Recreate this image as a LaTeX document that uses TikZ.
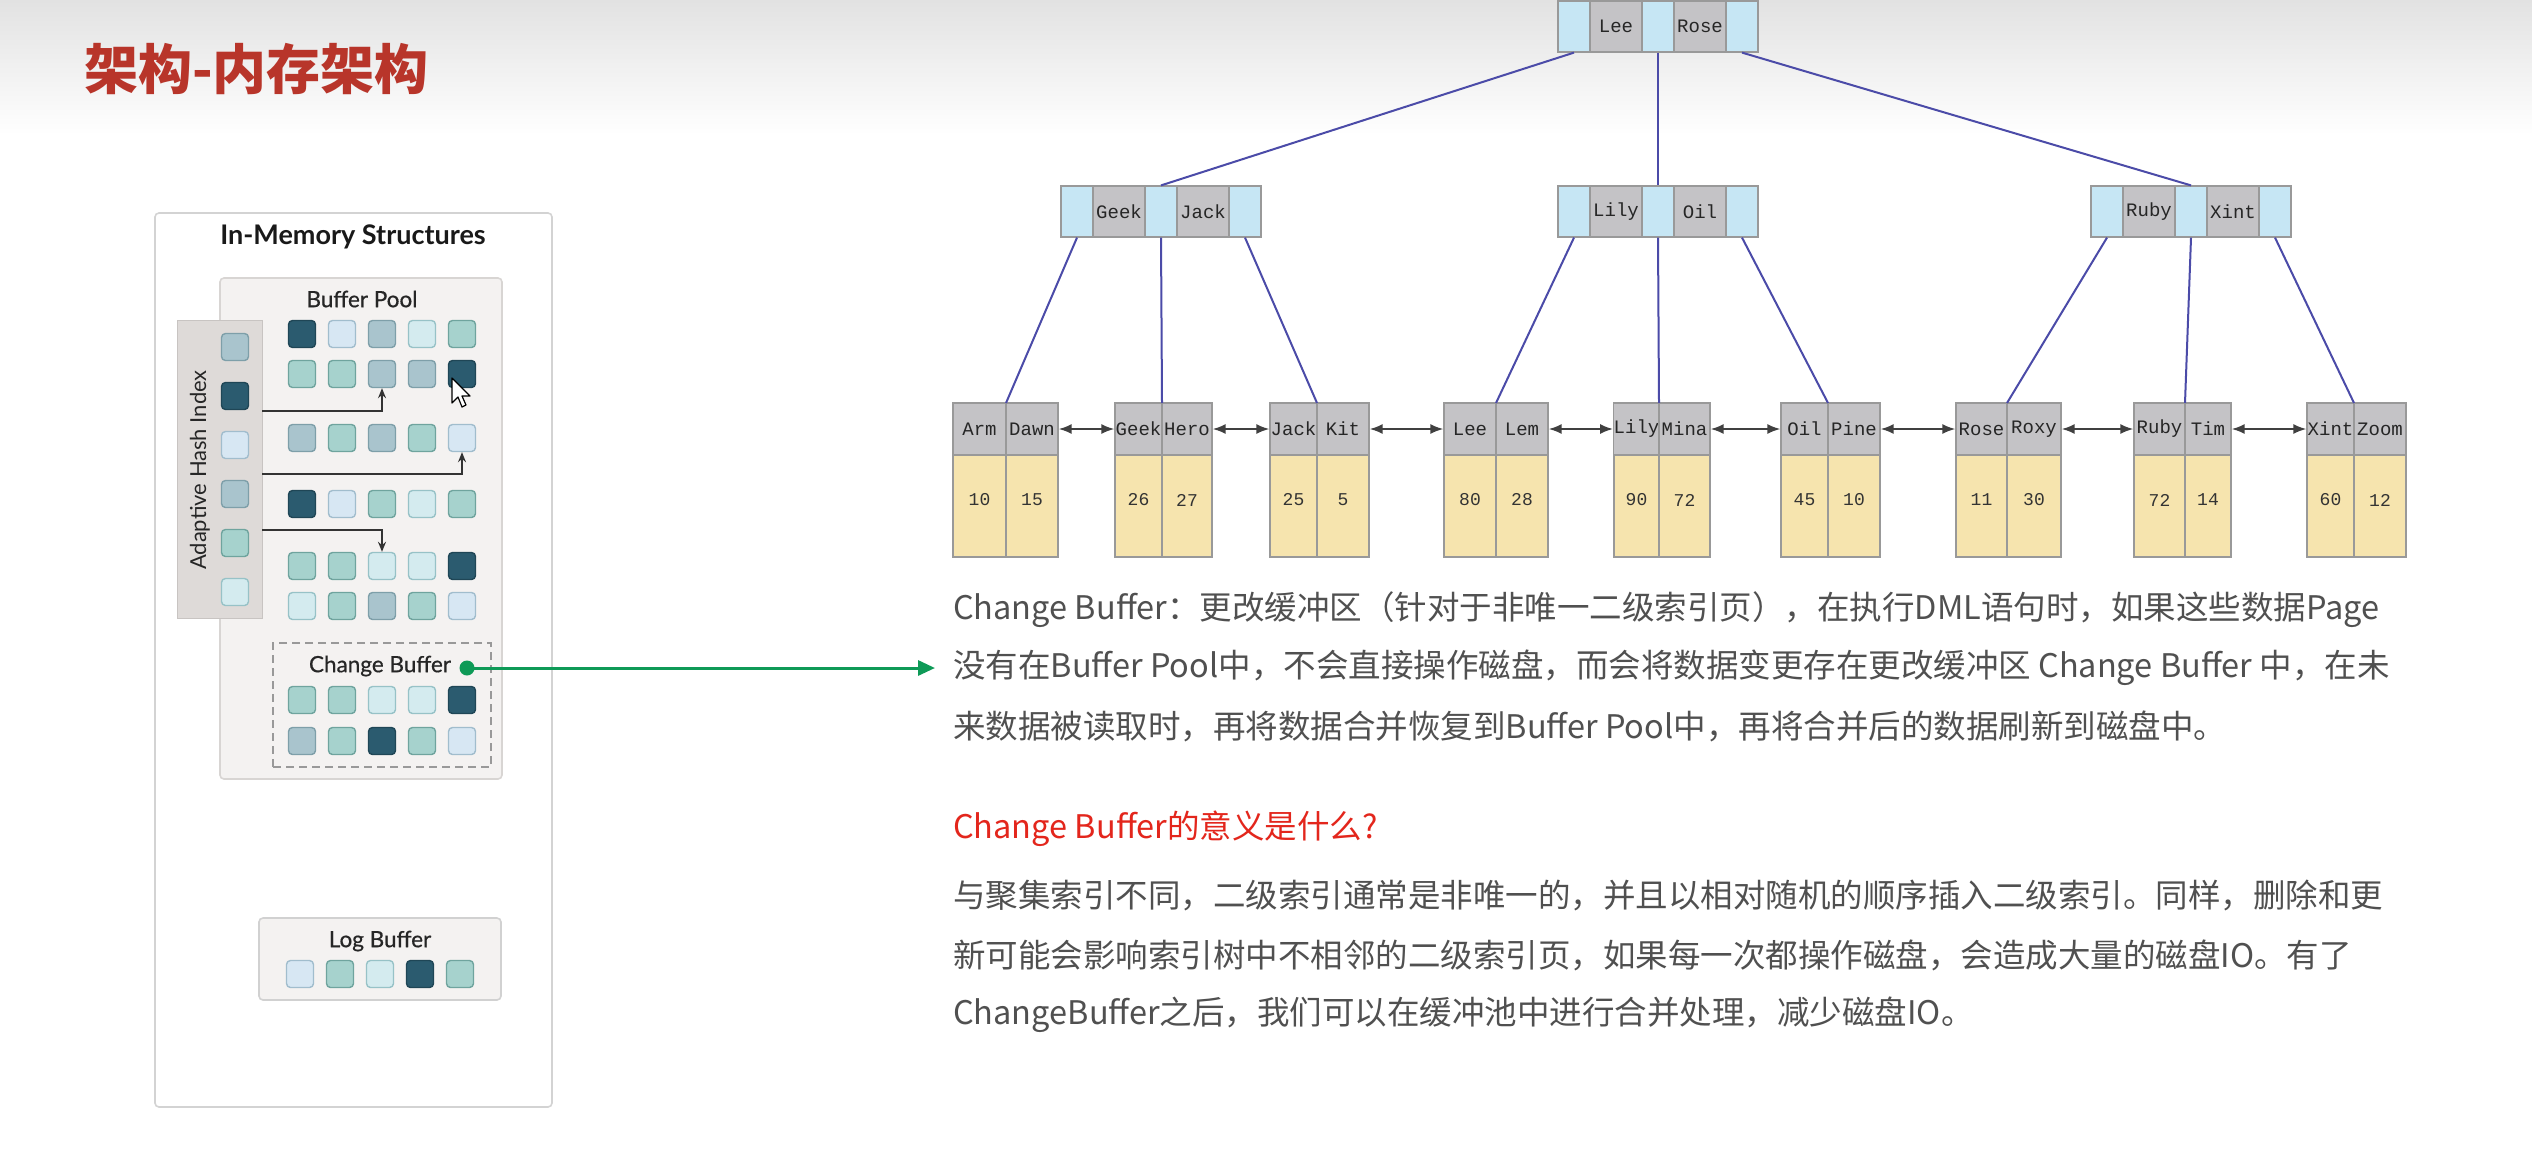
\documentclass[tikz,border=0pt]{standalone}
\usepackage{fontspec}
\usetikzlibrary{arrows.meta}
\setmainfont{Lato}
\newfontfamily\latomed{Lato}[FakeBold=0.6]
\newfontfamily\cjkfont{Noto Sans CJK SC}
\newfontfamily\monofont{Liberation Mono}

\definecolor{titlered}{HTML}{B8352A}
\definecolor{headred}{HTML}{E3261C}
\definecolor{bodygray}{HTML}{505050}
\definecolor{hdrgray}{HTML}{E2E2E2}
\definecolor{panelline}{HTML}{D3D3D3}
\definecolor{poolfill}{HTML}{F4F2F1}
\definecolor{poolline}{HTML}{D8D5D3}
\definecolor{ahifill}{HTML}{DEDAD8}
\definecolor{sqDf}{HTML}{2B5B6F}\definecolor{sqDd}{HTML}{1F4656}
\definecolor{sqAf}{HTML}{A9C4CD}\definecolor{sqAd}{HTML}{7E9FA9}
\definecolor{sqTf}{HTML}{A6D2CD}\definecolor{sqTd}{HTML}{6FA49E}
\definecolor{sqLf}{HTML}{D7E7F3}\definecolor{sqLd}{HTML}{A1BDCD}
\definecolor{sqCf}{HTML}{D4EBEF}\definecolor{sqCd}{HTML}{97C2C7}
\definecolor{cbgreen}{HTML}{0E9A57}
\definecolor{ptrblue}{HTML}{C6E6F4}
\definecolor{keygray}{HTML}{C4C3C6}
\definecolor{cellline}{HTML}{999999}
\definecolor{valyellow}{HTML}{F6E4AE}
\definecolor{edgeblue}{HTML}{4B4BA8}
\definecolor{linkgray}{HTML}{404040}

% a row of five buffer pages
\newcommand\squarerow[4]{%
  \foreach \k [count=\i from 0] in {#4}{
    \node[sq=\k] (#1-\i) at ({#2+40*\i},#3) {};
  }}

% non-leaf B+tree node: pointer | key | pointer | key | pointer
\newcommand\innernode[5]{%
  \node[ptr] (#1-p0) at ({#2+16},#3) {};
  \node[keycell] (#1-k1) at ({#2+58},#3) {#4};
  \node[ptr] (#1-p1) at ({#2+100},#3) {};
  \node[keycell] (#1-k2) at ({#2+142},#3) {#5};
  \node[ptr] (#1-p2) at ({#2+184},#3) {};
}

% leaf node: two keys over two values
\newcommand\leafnode[8]{%
  \node[leafkey, minimum width={(#3-#2)*1pt}] (#1-k1) at ({(#2+#3)/2},429) {#5};
  \node[leafkey, minimum width={(#4-#3)*1pt}] (#1-k2) at ({(#3+#4)/2},429) {#6};
  \node[leafval, minimum width={(#3-#2)*1pt}] (#1-v1) at ({(#2+#3)/2},506) {};
  \node[leafval, minimum width={(#4-#3)*1pt}] (#1-v2) at ({(#3+#4)/2},506) {};
  \node[valtext] (#1-n1) at ({(#2+#3)/2},500) {#7};
  \node[valtext] (#1-n2) at ({(#3+#4)/2},500) {#8};
  \coordinate (#1-top) at (#3,403);
}

\begin{document}
\begin{tikzpicture}[x=1pt,y=-1pt,
  sq/.style={rounded corners=4pt, minimum size=27pt, inner sep=0pt, line width=1.4pt, fill=sq#1f, draw=sq#1d},
  panel/.style={draw=panelline, fill=white, line width=1.6pt, rounded corners=4pt, inner sep=0pt},
  pool/.style={draw=poolline, fill=poolfill, line width=1.6pt, rounded corners=4pt, inner sep=0pt},
  lbl/.style={font=\latomed\fontsize{22.5}{24}\selectfont, text=black!85},
  hasharrow/.style={draw=black!80, line width=1.6pt, -{Stealth[length=10pt,width=8pt]}},
  ptr/.style={draw=cellline, fill=ptrblue, line width=1.2pt, minimum width=32pt, minimum height=51pt, inner sep=0pt},
  keycell/.style={draw=cellline, fill=keygray, line width=1.2pt, minimum width=52pt, minimum height=51pt, inner sep=0pt, font=\monofont\fontsize{19}{19}\selectfont, text=black!85},
  leafkey/.style={draw=cellline, fill=keygray, line width=1.2pt, minimum height=52pt, inner sep=0pt, font=\monofont\fontsize{19}{19}\selectfont, text=black!85},
  leafval/.style={draw=cellline, fill=valyellow, line width=1.2pt, minimum height=102pt, inner sep=0pt},
  valtext/.style={inner sep=0pt, font=\monofont\fontsize{18}{18}\selectfont, text=black!80},
  treeline/.style={draw=edgeblue, line width=2pt},
  leaflink/.style={draw=linkgray, line width=2pt, {Latex[length=13pt,width=10pt]}-{Latex[length=13pt,width=10pt]}},
  bodytext/.style={anchor=west, inner sep=0pt, font=\cjkfont\fontsize{32.5}{36}\selectfont, text=bodygray}
]
\useasboundingbox (0,0) rectangle (2532,1163);
\fill[white] (0,0) rectangle (2532,1163);
\shade[top color=hdrgray, bottom color=white] (0,0) rectangle (2532,135);

% slide title
\node[anchor=west, inner sep=0pt, text=titlered, font=\cjkfont\bfseries\fontsize{54}{58}\selectfont] (title) at (84,69) {架构-内存架构};

% ---------- in-memory structures ----------
\node[panel, minimum width=397pt, minimum height=894pt] (mem) at (353.5,660) {};
\node[font=\bfseries\fontsize{27}{29}\selectfont, text=black!90] (memtitle) at (353,237) {In-Memory Structures};

\node[pool, minimum width=282pt, minimum height=501pt] (bpool) at (361,528.5) {};
\node[lbl] (bplabel) at (362,299) {Buffer Pool};

\node[draw=ahifill!90!black, fill=ahifill, line width=0.8pt, inner sep=0pt, minimum width=85pt, minimum height=298pt] (ahi) at (219.5,469) {};
\node[lbl, font=\fontsize{22}{24}\selectfont, rotate=90] (ahilabel) at (200,470) {Adaptive Hash Index};
\foreach \k [count=\i from 0] in {A,D,L,A,T,C}{
  \node[sq=\k] (ahi-\i) at (235,{347+49*\i}) {};
}

\squarerow{bpa}{302}{334}{D,L,A,C,T}
\squarerow{bpb}{302}{374}{T,T,A,A,D}
\squarerow{bpc}{302}{438}{A,T,A,T,L}
\squarerow{bpd}{302}{504}{D,L,T,C,T}
\squarerow{bpe}{302}{566}{T,T,C,C,D}
\squarerow{bpf}{302}{606}{C,T,A,T,L}

% hash lookups pointing into the pool
\coordinate (h1) at (262,411);
\coordinate (h2) at (262,474);
\coordinate (h3) at (262,530);
\draw[hasharrow] (h1) -| (bpb-2.south);
\draw[hasharrow] (h2) -| (bpc-4.south);
\draw[hasharrow] (h3) -| (bpe-2.north);

% mouse pointer
\begin{scope}[shift={(452,378)}]
  \filldraw[fill=white, draw=black, line width=1.2pt, line join=round]
    (0,0) -- (0,25) -- (6,19) -- (10,29) -- (14,27) -- (10,18) -- (18,18) -- cycle;
\end{scope}

% change buffer
\node[draw=black!40, dashed, dash pattern=on 8pt off 5pt, line width=1.8pt, inner sep=0pt, minimum width=218pt, minimum height=124pt] (cbuf) at (382,705) {};
\node[lbl] (cblabel) at (380,666) {Change Buffer};
\squarerow{cba}{302}{700}{T,T,C,C,D}
\squarerow{cbb}{302}{741}{A,T,D,T,L}
\node[circle, fill=cbgreen, inner sep=0pt, minimum size=15pt] (cbdot) at (467,668) {};

% log buffer
\node[pool, draw=black!18, minimum width=242pt, minimum height=82pt] (logbuf) at (380,959) {};
\node[lbl] (loglabel) at (380,941) {Log Buffer};
\squarerow{lga}{300}{974}{L,T,C,D,T}

% pointer to the explanation
\coordinate (cbtarget) at (935,668);
\draw[cbgreen, line width=3pt, -{Triangle[length=17pt,width=15pt]}] (cbdot.center) -- (cbtarget);

% ---------- B+tree ----------
\innernode{rt}{1558}{26.5}{Lee}{Rose}
\innernode{g}{1061}{211.5}{Geek}{Jack}
\innernode{l}{1558}{211.5}{Lily}{Oil}
\innernode{r}{2091}{211.5}{Ruby}{Xint}

\leafnode{lf1}{953}{1006}{1058}{Arm}{Dawn}{10}{15}
\leafnode{lf2}{1115}{1162}{1212}{Geek}{Hero}{26}{27}
\leafnode{lf3}{1270}{1317}{1369}{Jack}{Kit}{25}{5}
\leafnode{lf4}{1444}{1496}{1548}{Lee}{Lem}{80}{28}
\leafnode{lf5}{1614}{1659}{1710}{Lily}{Mina}{90}{72}
\leafnode{lf6}{1781}{1828}{1880}{Oil}{Pine}{45}{10}
\leafnode{lf7}{1956}{2007}{2061}{Rose}{Roxy}{11}{30}
\leafnode{lf8}{2134}{2185}{2231}{Ruby}{Tim}{72}{14}
\leafnode{lf9}{2307}{2354}{2406}{Xint}{Zoom}{60}{12}

\draw[treeline] (rt-p0.south) -- (g-p1.north);
\draw[treeline] (rt-p1.south) -- (l-p1.north);
\draw[treeline] (rt-p2.south) -- (r-p1.north);
\draw[treeline] (g-p0.south) -- (lf1-top);
\draw[treeline] (g-p1.south) -- (lf2-top);
\draw[treeline] (g-p2.south) -- (lf3-top);
\draw[treeline] (l-p0.south) -- (lf4-top);
\draw[treeline] (l-p1.south) -- (lf5-top);
\draw[treeline] (l-p2.south) -- (lf6-top);
\draw[treeline] (r-p0.south) -- (lf7-top);
\draw[treeline] (r-p1.south) -- (lf8-top);
\draw[treeline] (r-p2.south) -- (lf9-top);

\foreach \a/\b in {lf1/lf2,lf2/lf3,lf3/lf4,lf4/lf5,lf5/lf6,lf6/lf7,lf7/lf8,lf8/lf9}{
  \draw[leaflink] (\a-k2.east) -- (\b-k1.west);
}

% ---------- explanation ----------
\node[bodytext] (pa1) at (953,610) {Change Buffer：更改缓冲区（针对于非唯一二级索引页），在执行DML语句时，如果这些数据Page};
\node[bodytext] (pa2) at (953,668) {没有在Buffer Pool中，不会直接操作磁盘，而会将数据变更存在更改缓冲区 Change Buffer 中，在未};
\node[bodytext] (pa3) at (953,726) {来数据被读取时，再将数据合并恢复到Buffer Pool中，再将合并后的数据刷新到磁盘中。};
\node[bodytext, text=headred] (qhead) at (953,829) {Change Buffer的意义是什么?};
\node[bodytext] (pb1) at (953,895) {与聚集索引不同，二级索引通常是非唯一的，并且以相对随机的顺序插入二级索引。同样，删除和更};
\node[bodytext] (pb2) at (953,955) {新可能会影响索引树中不相邻的二级索引页，如果每一次都操作磁盘，会造成大量的磁盘IO。有了};
\node[bodytext] (pb3) at (953,1015) {ChangeBuffer之后，我们可以在缓冲池中进行合并处理，减少磁盘IO。};
\end{tikzpicture}
\end{document}
